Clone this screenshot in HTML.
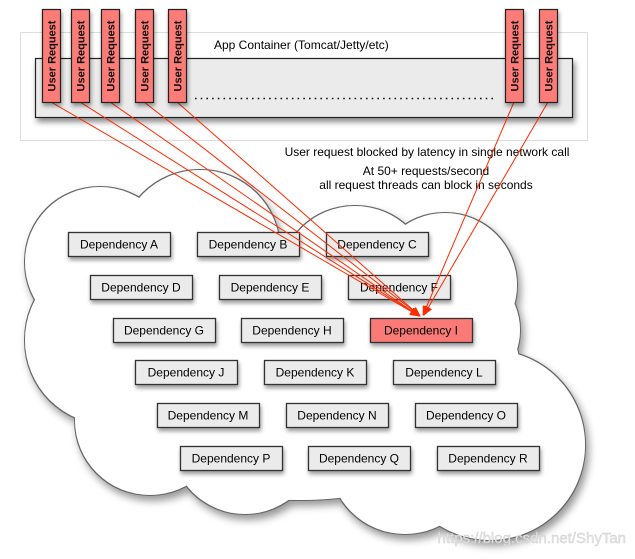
<!DOCTYPE html>
<html><head><meta charset="utf-8"><style>
body{margin:0;background:#fff;width:635px;height:554px;overflow:hidden;font-family:"Liberation Sans",sans-serif}
</style></head><body>
<svg width="635" height="554" viewBox="0 0 635 554" xmlns="http://www.w3.org/2000/svg" font-family="Liberation Sans, sans-serif">
<defs>
<filter id="sh" x="-20%" y="-20%" width="150%" height="150%"><feDropShadow dx="2" dy="4" stdDeviation="3" flood-color="#000" flood-opacity="0.45"/></filter>
<filter id="sh2" x="-20%" y="-20%" width="150%" height="150%"><feDropShadow dx="1" dy="3" stdDeviation="2" flood-color="#000" flood-opacity="0.4"/></filter>
<filter id="cl" x="-10%" y="-10%" width="130%" height="130%">
<feMorphology in="SourceAlpha" operator="dilate" radius="1.2" result="d"/>
<feFlood flood-color="#666"/><feComposite in2="d" operator="in" result="ol"/>
<feGaussianBlur in="d" stdDeviation="4" result="b"/><feOffset in="b" dx="3" dy="5" result="bo"/>
<feFlood flood-color="#000" flood-opacity="0.4"/><feComposite in2="bo" operator="in" result="shd"/>
<feMerge><feMergeNode in="shd"/><feMergeNode in="ol"/><feMergeNode in="SourceGraphic"/></feMerge>
</filter>
<marker id="ah" markerWidth="10" markerHeight="8" refX="9" refY="4" orient="auto" markerUnits="userSpaceOnUse"><path d="M0,0 L10,4 L0,8 Z" fill="#ff2a00"/></marker>
</defs>
<rect x="20.5" y="32.5" width="567" height="108" fill="#fff" stroke="#ddd"/>
<text x="214" y="49" font-size="12" fill="#000">App Container (Tomcat/Jetty/etc)</text>
<rect x="35.5" y="58.5" width="537" height="59" fill="#ebebeb" stroke="#222" stroke-width="1.2" filter="url(#sh)"/>
<line x1="195" y1="98.5" x2="497" y2="98.5" stroke="#111" stroke-width="1.6" stroke-dasharray="1.6 4.1"/>
<g filter="url(#cl)" fill="#fff">
<circle cx="100" cy="262" r="75"/><circle cx="200" cy="250" r="80"/><circle cx="355" cy="282" r="76"/>
<circle cx="445" cy="285" r="72"/><circle cx="455" cy="330" r="65"/><circle cx="490" cy="445" r="95"/>
<circle cx="405" cy="458" r="76"/><circle cx="245" cy="440" r="74"/><circle cx="110" cy="340" r="85"/>
<circle cx="150" cy="420" r="75"/><ellipse cx="300" cy="370" rx="220" ry="130"/>
</g>
<text x="427" y="156" font-size="12" text-anchor="middle">User request blocked by latency in single network call</text>
<text x="426" y="175" font-size="12" text-anchor="middle">At 50+ requests/second</text>
<text x="426" y="189" font-size="12" text-anchor="middle">all request threads can block in seconds</text>
<g font-size="12" text-anchor="middle">
<g filter="url(#sh2)" fill="#ebebeb" stroke="#333" stroke-width="1.3">
<rect x="68.5" y="232.5" width="102" height="24"/><rect x="197.5" y="232.5" width="102" height="24"/><rect x="326.5" y="232.5" width="102" height="24"/>
<rect x="90.5" y="275.5" width="102" height="24"/><rect x="219.5" y="275.5" width="102" height="24"/><rect x="348.5" y="275.5" width="102" height="24"/>
<rect x="113.5" y="318.5" width="102" height="24"/><rect x="241.5" y="318.5" width="102" height="24"/><rect x="370.5" y="318.5" width="102" height="24" fill="#f97a76"/>
<rect x="135.5" y="360.5" width="102" height="24"/><rect x="264.5" y="360.5" width="102" height="24"/><rect x="393.5" y="360.5" width="102" height="24"/>
<rect x="157.5" y="403.5" width="102" height="24"/><rect x="286.5" y="403.5" width="102" height="24"/><rect x="415.5" y="403.5" width="102" height="24"/>
<rect x="180.5" y="446.5" width="102" height="24"/><rect x="308.5" y="446.5" width="102" height="24"/><rect x="437.5" y="446.5" width="102" height="24"/>
</g>
<text x="119" y="248.5">Dependency A</text><text x="248" y="248.5">Dependency B</text><text x="377" y="248.5">Dependency C</text>
<text x="141" y="291.5">Dependency D</text><text x="270" y="291.5">Dependency E</text><text x="399" y="291.5">Dependency F</text>
<text x="164" y="334.5">Dependency G</text><text x="292" y="334.5">Dependency H</text><text x="421" y="334.5">Dependency I</text>
<text x="186" y="376.5">Dependency J</text><text x="315" y="376.5">Dependency K</text><text x="444" y="376.5">Dependency L</text>
<text x="208" y="419.5">Dependency M</text><text x="337" y="419.5">Dependency N</text><text x="466" y="419.5">Dependency O</text>
<text x="231" y="462.5">Dependency P</text><text x="359" y="462.5">Dependency Q</text><text x="488" y="462.5">Dependency R</text>
</g>
<g stroke="#ff2a00" stroke-width="1" fill="none" marker-end="url(#ah)">
<line x1="51" y1="102" x2="419" y2="316"/><line x1="80" y1="102" x2="419" y2="316"/><line x1="110" y1="102" x2="419" y2="316"/>
<line x1="144" y1="102" x2="420" y2="316"/><line x1="177" y1="102" x2="420" y2="316"/>
<line x1="514" y1="102" x2="423" y2="315"/><line x1="548" y1="102" x2="424" y2="315"/>
</g>
<g fill="#fd7b77" stroke="#222" stroke-width="1.2" filter="url(#sh2)">
<rect x="42.5" y="9.5" width="18" height="93"/><rect x="71.5" y="9.5" width="18" height="93"/><rect x="101.5" y="9.5" width="18" height="93"/>
<rect x="135.5" y="9.5" width="18" height="93"/><rect x="168.5" y="9.5" width="18" height="93"/>
<rect x="505.5" y="9.5" width="18" height="93"/><rect x="539.5" y="9.5" width="18" height="93"/>
</g>
<g font-size="11" font-weight="bold" text-anchor="middle" fill="#111">
<text transform="translate(55.5,56) rotate(-90)">User Request</text>
<text transform="translate(84.5,56) rotate(-90)">User Request</text>
<text transform="translate(114.5,56) rotate(-90)">User Request</text>
<text transform="translate(148.5,56) rotate(-90)">User Request</text>
<text transform="translate(181.5,56) rotate(-90)">User Request</text>
<text transform="translate(518.5,56) rotate(-90)">User Request</text>
<text transform="translate(552.5,56) rotate(-90)">User Request</text>
</g>
<text x="626" y="543" font-size="15" text-anchor="end" fill="#e4e4e4" stroke="#cfcfcf" stroke-width="0.4">https://blog.csdn.net/ShyTan</text>
</svg>
</body></html>
